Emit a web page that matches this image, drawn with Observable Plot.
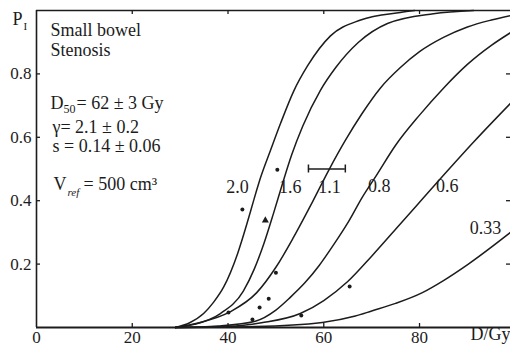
<!DOCTYPE html>
<html><head><meta charset="utf-8">
<script src="https://cdn.jsdelivr.net/npm/d3@7"></script>
<script src="https://cdn.jsdelivr.net/npm/@observablehq/plot@0.6"></script>
<style>body{margin:0;background:#fff} svg text{font-family:"Liberation Serif",serif}</style>
</head><body><div id="chart"></div>
<script>
// Relative volumes (v = V / Vref) labelling each curve
const relVolumes = ["2.0", "1.6", "1.1", "0.8", "0.6", "0.33"];
// Curves: [dose (Gy), probability]
const curve20 = [[29,0],[32,0.015],[34.9,0.044],[37,0.08],[39.1,0.128],[42,0.233],[44.1,0.335],[45.3,0.398],[46.8,0.473],[48.9,0.56],[51,0.645],[53.7,0.745],[56.6,0.825],[61.4,0.92],[67.7,0.97],[76,0.994],[79,1]];
const curve16 = [[29,0],[33,0.01],[38.4,0.044],[43.2,0.115],[45.5,0.185],[47.5,0.265],[49.5,0.36],[51.5,0.46],[53.3,0.545],[55.6,0.635],[59.3,0.748],[62.5,0.82],[67.2,0.899],[73.3,0.959],[82.9,0.99],[91.3,1]];
const curve11 = [[29,0],[34,0.015],[40.5,0.05],[46,0.11],[50,0.19],[53.7,0.285],[57.6,0.395],[61,0.495],[64.5,0.59],[68,0.675],[71.8,0.755],[76,0.82],[80,0.87],[85,0.915],[90,0.948],[95,0.97],[99,0.984]];
const curve08 = [[29,0],[38,0.005],[45.7,0.02],[50,0.055],[53,0.095],[56,0.14],[59,0.195],[62,0.26],[65.2,0.335],[68,0.41],[71,0.48],[75,0.575],[80,0.67],[85,0.755],[90,0.83],[95,0.89],[99,0.93]];
const curve06 = [[29,0],[40,0.003],[47,0.015],[55.1,0.044],[60,0.085],[65,0.145],[70,0.225],[75,0.31],[80,0.395],[85,0.48],[91.3,0.585],[99,0.707]];
const curve033 = [[29,0],[45.7,0.003],[59.7,0.016],[66.6,0.036],[70,0.052],[75,0.076],[80.6,0.11],[85,0.148],[90.2,0.2],[99,0.30]];
const curves = [curve20, curve16, curve11, curve08, curve06, curve033];
// Curve label anchors [dose, probability]
const labelDose = [42.0, 53.0, 61.2, 71.6, 85.8, 93.8];
const labelProb = [0.442, 0.442, 0.442, 0.445, 0.445, 0.312];
// Observed complication data
const obsDose = [43.0, 50.3, 40.1, 46.6, 48.5, 50.0, 65.4, 55.3, 45.1];
const obsProb = [0.372, 0.498, 0.047, 0.063, 0.091, 0.173, 0.129, 0.038, 0.025];
const triDose = [47.8];
const triProb = [0.338];
// D50 error bar
const errLow = 56.8, errHigh = 64.5, errProb = 0.5;
// Axis ticks
const xTicks = [0, 20, 40, 60, 80];
const yTicks = [0.2, 0.4, 0.6, 0.8];

const W = 510, H = 347, mL = 36, mR = 0, mT = 10, mB = 20;
const plotW = W - mL - mR, plotH = H - mT - mB;
const ink = "#1c1c1c";
const serif = "Liberation Serif";

const lineData = curves.flatMap((c, i) => c.map(([D, P]) => ({D, P, v: relVolumes[i]})));
const labels = relVolumes.map((v, i) => ({v, D: labelDose[i], P: labelProb[i]}));
const obs = obsDose.map((D, i) => ({D, P: obsProb[i]}));
const tri = triDose.map((D, i) => ({D, P: triProb[i]}));

const ann = (text, dx, dy, opts = {}) => Plot.text([text], {frameAnchor: "top-left", textAnchor: "start", lineAnchor: "middle", dx, dy, fill: ink, fontSize: 18, fontFamily: serif, ...opts});

const chart = Plot.plot({
  width: W, height: H,
  marginLeft: mL, marginRight: mR, marginTop: mT, marginBottom: mB,
  style: {fontFamily: serif, fontSize: "17px", color: ink, background: "#fff"},
  x: {domain: [0, 99]},
  y: {domain: [0, 1]},
  marks: [
    Plot.axisX({ticks: xTicks, tickSize: 0, tickPadding: 3, label: null, fontSize: 17, fontFamily: serif}),
    Plot.axisY({ticks: yTicks, tickSize: 0, tickPadding: 5, label: null, fontSize: 17, fontFamily: serif, tickFormat: d => d.toFixed(1)}),
    // inward ticks
    Plot.tickX(xTicks.slice(1), {x: d => d, insetTop: plotH - 4, stroke: ink, strokeWidth: 1.3}),
    Plot.tickX(xTicks.slice(1), {x: d => d, insetBottom: plotH - 4, stroke: ink, strokeWidth: 1.3}),
    Plot.tickY(yTicks, {y: d => d, insetRight: plotW - 4, stroke: ink, strokeWidth: 1.3}),
    Plot.tickY(yTicks, {y: d => d, insetLeft: plotW - 4, stroke: ink, strokeWidth: 1.3}),
    // frame
    Plot.ruleX([0], {stroke: ink, strokeWidth: 1.6}),
    Plot.ruleY([1], {stroke: ink, strokeWidth: 1.6}),
    Plot.ruleY([0], {stroke: ink, strokeWidth: 2.2}),
    // curves
    Plot.line(lineData, {x: "D", y: "P", z: "v", curve: "monotone-x", stroke: ink, strokeWidth: 1.5}),
    // error bar
    Plot.ruleY([errProb], {x1: errLow, x2: errHigh, stroke: ink, strokeWidth: 1.5}),
    Plot.ruleX([errLow, errHigh], {x: d => d, y1: errProb, y2: errProb, insetTop: -4, insetBottom: -4, stroke: ink, strokeWidth: 1.5}),
    // observations
    Plot.dot(obs, {x: "D", y: "P", r: 2, fill: ink, stroke: null}),
    Plot.dot(tri, {x: "D", y: "P", r: 2.6, symbol: "triangle", fill: ink, stroke: null}),
    // curve labels
    Plot.text(labels, {x: "D", y: "P", text: "v", fill: ink, fontSize: 18, fontFamily: serif}),
    // annotations
    ann("P", -24, 9),
    ann("I", -13, 16, {fontSize: 11}),
    ann("Small bowel", 14, 20),
    ann("Stenosis", 14, 40),
    ann("D", 14, 93),
    ann("50", 27, 99, {fontSize: 12, fontFamily: "Liberation Sans"}),
    ann("= 62 ± 3 Gy", 40, 93),
    ann("γ= 2.1 ± 0.2", 16, 117),
    ann("s = 0.14 ± 0.06", 16, 136),
    ann("V", 17, 174),
    ann("ref", 31, 182, {fontSize: 11, fontStyle: "italic"}),
    ann("= 500 cm³", 47, 174),
    Plot.text(["D/Gy"], {frameAnchor: "bottom-right", textAnchor: "end", lineAnchor: "middle", dy: 7, fill: ink, fontSize: 18, fontFamily: serif})
  ]
});
document.getElementById("chart").appendChild(chart);
</script>
</body></html>
